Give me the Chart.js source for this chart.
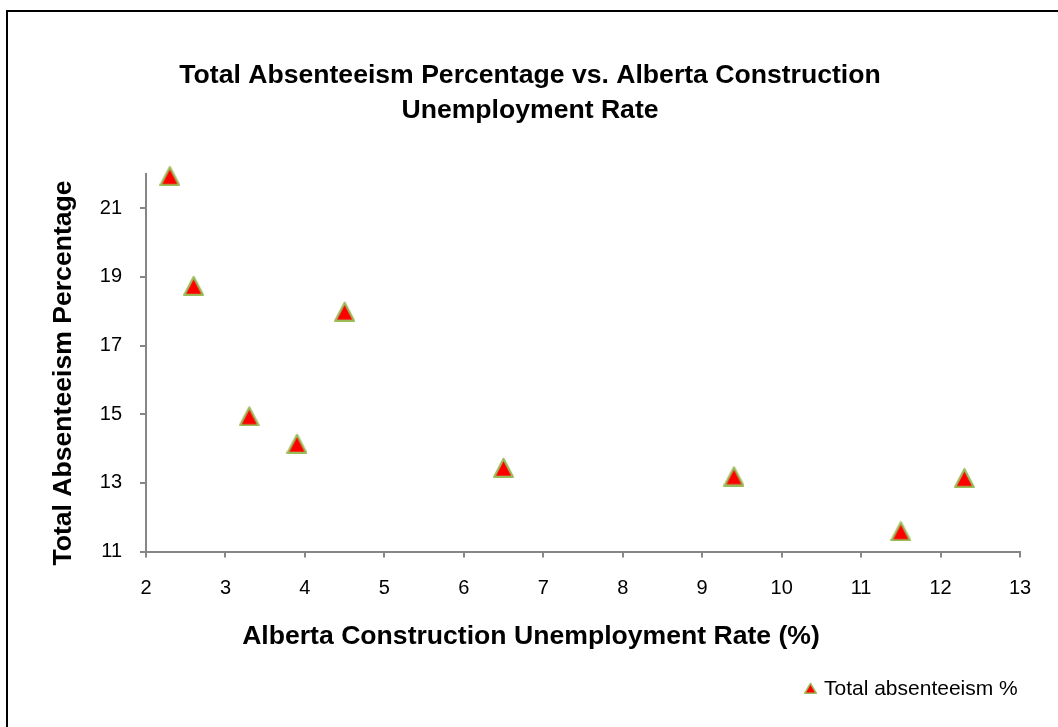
<!DOCTYPE html>
<html>
<head>
<meta charset="utf-8">
<script src="https://cdn.jsdelivr.net/npm/chart.js@4/dist/chart.umd.min.js"></script>
<style>
  html, body { margin: 0; padding: 0; background: #ffffff; }
  #wrap { width: 1058px; height: 727px; position: relative; }
</style>
</head>
<body>
<div id="wrap"><canvas id="chart" width="1058" height="727"></canvas></div>
<script>
// Chart text
const titleLines = ['Total Absenteeism Percentage vs. Alberta Construction', 'Unemployment Rate'];
const xAxisTitle = 'Alberta Construction Unemployment Rate (%)';
const yAxisTitle = 'Total Absenteeism Percentage';
const seriesName = 'Total absenteeism %';

// Observations: construction unemployment rate (%) and total absenteeism (%)
const unemploymentRate = [2.3, 2.6, 3.3, 3.9, 4.5, 6.5, 9.4, 11.5, 12.3];
const absenteeismPct   = [21.95, 18.75, 14.95, 14.15, 18.0, 13.45, 13.2, 11.6, 13.15];

// Axis ranges and tick labels
const xRange = [2, 13];
const yRange = [11, 22];
const xTicks = [2, 3, 4, 5, 6, 7, 8, 9, 10, 11, 12, 13];
const yTicks = [11, 13, 15, 17, 19, 21];

const FONT = '"Liberation Sans", Arial, Helvetica, sans-serif';
const AXIS_GREY = '#868686';
const FILL_RED = '#FF0000';
const EDGE_GREEN = '#9BBB59';

// Triangle marker drawn into an offscreen canvas (used as point style)
function makeTriangle(w, h, lw) {
  const c = document.createElement('canvas');
  c.width = w; c.height = h;
  const g = c.getContext('2d');
  const i = lw / 2;
  g.beginPath();
  g.moveTo(w / 2, lw * 0.9);
  g.lineTo(w - i, h - i);
  g.lineTo(i, h - i);
  g.closePath();
  g.fillStyle = FILL_RED;
  g.fill();
  g.lineWidth = lw;
  g.strokeStyle = EDGE_GREEN;
  g.lineJoin = 'round';
  g.stroke();
  return c;
}

const pointMarker = makeTriangle(21, 21, 2.2);
const legendMarker = makeTriangle(13, 12, 1.5);

const decorations = {
  id: 'decorations',
  beforeDraw(chart) {
    const ctx = chart.ctx;
    ctx.save();
    ctx.fillStyle = '#ffffff';
    ctx.fillRect(0, 0, chart.width, chart.height);
    ctx.restore();
  },
  afterDraw(chart) {
    const ctx = chart.ctx;
    ctx.save();
    // outer frame (top and left edges)
    ctx.fillStyle = '#000000';
    ctx.fillRect(6, 10, chart.width - 6, 2);
    ctx.fillRect(6, 10, 2, chart.height - 10);

    ctx.fillStyle = '#000000';
    ctx.textAlign = 'center';
    ctx.textBaseline = 'alphabetic';

    // chart title
    ctx.font = 'bold 26.6px ' + FONT;
    titleLines.forEach((line, i) => ctx.fillText(line, 530, 83 + i * 35));

    // x axis title
    ctx.fillText(xAxisTitle, 531, 644);

    // y axis title
    ctx.save();
    ctx.translate(71, 373);
    ctx.rotate(-Math.PI / 2);
    ctx.fillText(yAxisTitle, 0, 0);
    ctx.restore();

    // legend
    const ds = chart.data.datasets[0];
    ctx.drawImage(legendMarker, 804, 682);
    ctx.font = '21px ' + FONT;
    ctx.textAlign = 'left';
    ctx.textBaseline = 'middle';
    ctx.fillText(ds.label, 824, 689);
    ctx.restore();
  }
};

const points = unemploymentRate.map((x, i) => ({ x: x, y: absenteeismPct[i] }));

new Chart(document.getElementById('chart'), {
  type: 'scatter',
  data: {
    datasets: [{
      label: seriesName,
      data: points,
      pointStyle: pointMarker,
      pointRadius: 10,
      pointHoverRadius: 10,
      backgroundColor: FILL_RED,
      borderColor: EDGE_GREEN,
      showLine: false,
      clip: false
    }]
  },
  options: {
    responsive: false,
    animation: false,
    devicePixelRatio: 1,
    layout: { padding: { top: 174, right: 38, left: 0, bottom: 0 } },
    plugins: {
      legend: { display: false },
      title: { display: false },
      tooltip: { enabled: false }
    },
    scales: {
      x: {
        type: 'linear',
        min: xRange[0],
        max: xRange[1],
        afterBuildTicks(scale) { scale.ticks = xTicks.map(v => ({ value: v })); },
        afterFit(scale) { scale.height = 175.5; },
        ticks: {
          color: '#000000',
          font: { family: FONT, size: 20 },
          padding: 19,
          maxRotation: 0,
          autoSkip: false
        },
        grid: {
          drawOnChartArea: false,
          drawTicks: true,
          tickLength: 6,
          color: AXIS_GREY,
          lineWidth: 2
        },
        border: { color: AXIS_GREY, width: 2 }
      },
      y: {
        type: 'linear',
        min: yRange[0],
        max: yRange[1],
        afterBuildTicks(scale) { scale.ticks = yTicks.map(v => ({ value: v })); },
        afterFit(scale) { scale.width = 146; },
        ticks: {
          color: '#000000',
          font: { family: FONT, size: 20 },
          padding: 18,
          autoSkip: false
        },
        grid: {
          drawOnChartArea: false,
          drawTicks: true,
          tickLength: 6,
          color: AXIS_GREY,
          lineWidth: 2
        },
        border: { color: AXIS_GREY, width: 2 }
      }
    }
  },
  plugins: [decorations]
});
</script>
</body>
</html>
